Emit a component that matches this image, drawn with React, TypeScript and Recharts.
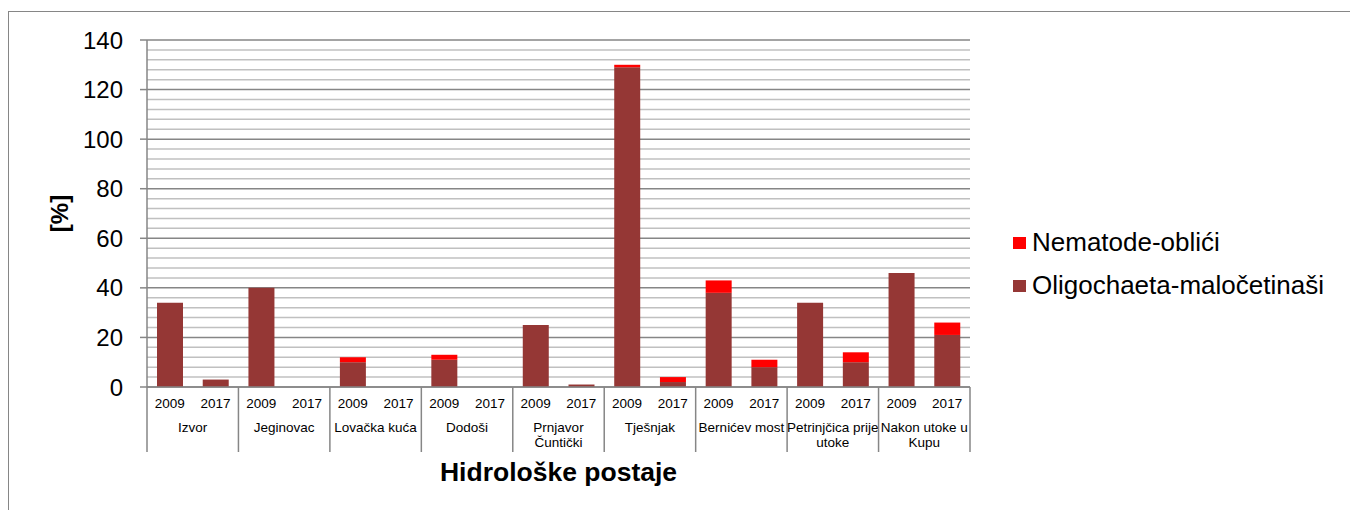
import { BarChart, Bar, XAxis, YAxis, CartesianGrid, Legend, Label } from 'recharts'

const stations = [
  'Izvor',
  'Jeginovac',
  'Lovačka kuća',
  'Dodoši',
  'Prnjavor\nČuntički',
  'Tješnjak',
  'Bernićev most',
  'Petrinjčica prije\nutoke',
  'Nakon utoke u\nKupu',
]
const years = ['2009', '2017']

// two values per station: 2009, 2017
const oligochaeta = [34, 3, 40, 0, 10, 0, 11, 0, 25, 1, 129, 2, 38, 8, 34, 10, 46, 21]
const nematode = [0, 0, 0, 0, 2, 0, 2, 0, 0, 0, 1, 2, 5, 3, 0, 4, 0, 5]

const yTicks = [0, 20, 40, 60, 80, 100, 120, 140]
const minorGrid = [4, 8, 12, 16, 24, 28, 32, 36, 44, 48, 52, 56, 64, 68, 72, 76, 84, 88, 92, 96, 104, 108, 112, 116, 124, 128, 132, 136]

const series = [
  { key: 'nematode', name: 'Nematode-oblići', color: '#FF0000' },
  { key: 'oligochaeta', name: 'Oligochaeta-maločetinaši', color: '#953735' },
]

const data = oligochaeta.map((v, i) => ({
  id: `${stations[Math.floor(i / 2)]}-${years[i % 2]}`,
  station: stations[Math.floor(i / 2)],
  year: years[i % 2],
  oligochaeta: v,
  nematode: nematode[i],
}))

const W = 1350
const H = 510
const PLOT_LEFT = 147
const PLOT_RIGHT = 970
const SLOT = (PLOT_RIGHT - PLOT_LEFT) / data.length
const AXIS_COLOR = '#868686'

function CategoryTick(props: any) {
  const { x, y, payload } = props
  const i = props.index ?? payload.index
  const row = data[i]
  if (!row) return null
  const lines = row.station.split('\n')
  return (
    <g>
      <text x={x} y={y + 21} textAnchor="middle" fontSize={13.5} fill="#000">
        {row.year}
      </text>
      {i % 2 === 1 &&
        lines.map((ln: string, k: number) => (
          <text key={k} x={x - SLOT / 2} y={y + 45 + k * 15} textAnchor="middle" fontSize={13.5} fill="#000">
            {ln}
          </text>
        ))}
      {i === 0 && <line x1={x - SLOT / 2} x2={x - SLOT / 2} y1={y} y2={y + 65} stroke={AXIS_COLOR} strokeWidth={1.5} />}
      {i % 2 === 1 && <line x1={x + SLOT / 2} x2={x + SLOT / 2} y1={y} y2={y + 65} stroke={AXIS_COLOR} strokeWidth={1.5} />}
    </g>
  )
}

function LegendBox() {
  return (
    <div style={{ fontFamily: 'Liberation Sans, Arial, sans-serif' }}>
      {series.map((s) => (
        <div key={s.key} style={{ display: 'flex', alignItems: 'center', height: 43, fontSize: 26, color: '#000' }}>
          <span style={{ width: 13, height: 12, background: s.color, marginRight: 6, display: 'inline-block' }} />
          {s.name}
        </div>
      ))}
    </div>
  )
}

export default function App() {
  return (
    <div style={{ position: 'absolute', left: 0, top: 0, width: W, height: H, background: '#fff', fontFamily: 'Liberation Sans, Arial, sans-serif' }}>
      <div
        style={{
          position: 'absolute',
          left: 8,
          top: 11,
          width: W - 8,
          height: H - 11,
          borderLeft: `1px solid ${AXIS_COLOR}`,
          borderTop: `1px solid ${AXIS_COLOR}`,
          boxSizing: 'border-box',
        }}
      />
      <BarChart
        width={W}
        height={H}
        data={data}
        margin={{ top: 40, right: W - PLOT_RIGHT, left: PLOT_LEFT - 60, bottom: H - 387 - 70 }}
        barSize={26}
      >
        {/* minor grid every 4, major grid every 20 */}
        <CartesianGrid vertical={false} horizontalValues={minorGrid} stroke="#c0c0c0" strokeWidth={1.5} />
        <CartesianGrid vertical={false} stroke={AXIS_COLOR} strokeWidth={1.5} />
        <XAxis
          dataKey="id"
          height={70}
          interval={0}
          tickLine={false}
          tickSize={0}
          tickMargin={0}
          axisLine={{ stroke: AXIS_COLOR, strokeWidth: 1.5 }}
          tick={<CategoryTick />}
        >
          <Label
            content={({ viewBox }: any) => (
              <text
                x={viewBox.x + viewBox.width / 2}
                y={viewBox.y + 94}
                textAnchor="middle"
                fontSize={26.5}
                fontWeight="bold"
                fill="#000"
              >
                Hidrološke postaje
              </text>
            )}
          />
        </XAxis>
        <YAxis
          width={60}
          domain={[0, 140]}
          ticks={yTicks}
          interval={0}
          tickSize={7}
          tickMargin={17}
          tick={{ fontSize: 24, fill: '#000' }}
          tickLine={{ stroke: AXIS_COLOR, strokeWidth: 1.5 }}
          axisLine={{ stroke: AXIS_COLOR, strokeWidth: 1.5 }}
        >
          <Label
            content={({ viewBox }: any) => {
              const cy = viewBox.y + viewBox.height / 2
              return (
                <text
                  x={59}
                  y={cy}
                  textAnchor="middle"
                  dominantBaseline="central"
                  transform={`rotate(-90 59 ${cy})`}
                  fontSize={24}
                  fontWeight="bold"
                  fill="#000"
                >
                  [%]
                </text>
              )
            }}
          />
        </YAxis>
        <Bar dataKey="oligochaeta" name="Oligochaeta-maločetinaši" stackId="a" fill="#953735" isAnimationActive={false} />
        <Bar dataKey="nematode" name="Nematode-oblići" stackId="a" fill="#FF0000" isAnimationActive={false} />
        <Legend
          layout="horizontal"
          verticalAlign="middle"
          align="center"
          content={<LegendBox />}
          wrapperStyle={{ left: 1013, top: 221, width: 335 }}
        />
      </BarChart>
    </div>
  )
}
